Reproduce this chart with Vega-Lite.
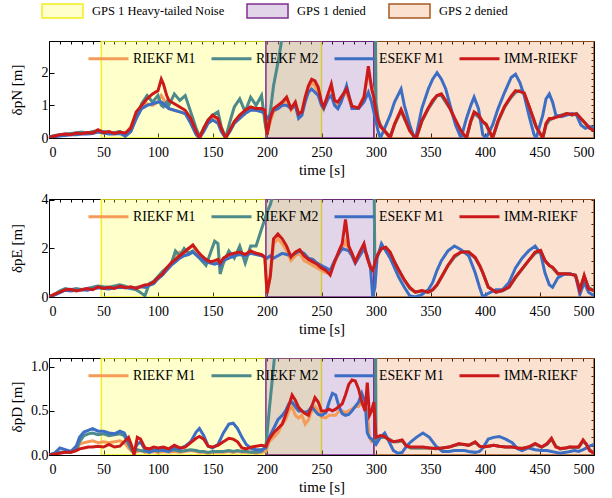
{
"$schema": "https://vega.github.io/schema/vega-lite/v6.json",
"autosize": {"type": "pad"},
"padding": {"left": 8, "top": 2, "right": 6, "bottom": 0},
"bounds": "flush",
"spacing": 61,
"background": "#ffffff",
"config": {
 "font": "Liberation Serif",
 "view": {"stroke": "#000000", "strokeWidth": 1},
 "axis": {"labelFont": "Liberation Serif", "labelFontSize": 14, "labelColor": "#000000", "titleFont": "Liberation Serif", "titleFontSize": 15, "titleFontWeight": "normal", "titleColor": "#000000", "domainColor": "#000000", "tickColor": "#000000", "tickSize": -5, "gridColor": "#707070", "gridDash": [7, 5], "gridWidth": 0.8, "gridOpacity": 1},
 "legend": {"labelFont": "Liberation Serif", "labelColor": "#000000", "padding": 0}
},
"resolve": {"scale": {"x": "independent", "y": "independent", "color": "independent", "fill": "independent", "stroke": "independent", "strokeDash": "independent", "strokeWidth": "independent"}, "legend": {"color": "independent", "fill": "independent", "stroke": "independent", "strokeDash": "independent"}},
"datasets": {
 "reg": [
  {"region": "GPS 1 Heavy-tailed Noise", "x0": 48, "x1": 250},
  {"region": "GPS 2 denied", "x0": 298, "x1": 500},
  {"region": "GPS 1 denied", "x0": 199, "x1": 298}
 ],
 "N": [
  {"t":0,"a":0.02,"b":0.03,"c":0.02,"d":0.02},
  {"t":5,"a":0.05,"b":0.08,"c":0.04,"d":0.06},
  {"t":10,"a":0.08,"b":0.1,"c":0.06,"d":0.1},
  {"t":15,"a":0.1,"b":0.12,"c":0.08,"d":0.12},
  {"t":20,"a":0.12,"b":0.14,"c":0.1,"d":0.1},
  {"t":25,"a":0.14,"b":0.16,"c":0.1,"d":0.15},
  {"t":30,"a":0.15,"b":0.18,"c":0.12,"d":0.13},
  {"t":35,"a":0.14,"b":0.15,"c":0.12,"d":0.17},
  {"t":40,"a":0.16,"b":0.2,"c":0.14,"d":0.15},
  {"t":45,"a":0.2,"b":0.22,"c":0.18,"d":0.25},
  {"t":50,"a":0.16,"b":0.2,"c":0.15,"d":0.16},
  {"t":55,"a":0.15,"b":0.18,"c":0.12,"d":0.2},
  {"t":60,"a":0.14,"b":0.16,"c":0.12,"d":0.14},
  {"t":65,"a":0.16,"b":0.2,"c":0.14,"d":0.18},
  {"t":70,"a":0.12,"b":0.05,"c":0.06,"d":0.15},
  {"t":75,"a":0.35,"b":0.2,"c":0.2,"d":0.3},
  {"t":80,"a":0.75,"b":0.6,"c":0.6,"d":0.8},
  {"t":85,"a":0.95,"b":1.05,"c":0.9,"d":1.0},
  {"t":90,"a":1.05,"b":1.3,"c":1.0,"d":1.2},
  {"t":95,"a":1.0,"b":1.1,"c":1.05,"d":1.35},
  {"t":100,"a":1.1,"b":1.3,"c":1.1,"d":1.45},
  {"t":103,"a":1.3,"b":1.0,"c":1.1,"d":1.8},
  {"t":105,"a":1.2,"b":0.95,"c":1.05,"d":1.65},
  {"t":108,"a":1.0,"b":1.1,"c":0.95,"d":1.3},
  {"t":110,"a":0.9,"b":1.0,"c":0.9,"d":1.15},
  {"t":115,"a":0.85,"b":1.35,"c":0.85,"d":1.05},
  {"t":120,"a":0.8,"b":1.15,"c":0.8,"d":0.95},
  {"t":125,"a":0.75,"b":1.3,"c":0.75,"d":0.85},
  {"t":130,"a":0.5,"b":0.8,"c":0.45,"d":0.6},
  {"t":135,"a":0.15,"b":0.3,"c":0.1,"d":0.2},
  {"t":138,"a":0.0,"b":0.05,"c":0.0,"d":0.0},
  {"t":142,"a":0.3,"b":0.3,"c":0.2,"d":0.3},
  {"t":146,"a":0.55,"b":0.55,"c":0.45,"d":0.55},
  {"t":150,"a":0.65,"b":0.7,"c":0.55,"d":0.7},
  {"t":155,"a":0.55,"b":0.8,"c":0.45,"d":0.6},
  {"t":158,"a":0.3,"b":0.35,"c":0.2,"d":0.3},
  {"t":162,"a":0.0,"b":0.0,"c":0.0,"d":0.0},
  {"t":166,"a":0.25,"b":0.5,"c":0.2,"d":0.25},
  {"t":170,"a":0.5,"b":0.95,"c":0.45,"d":0.5},
  {"t":175,"a":0.65,"b":1.2,"c":0.6,"d":0.7},
  {"t":180,"a":0.8,"b":0.8,"c":0.75,"d":0.85},
  {"t":185,"a":0.9,"b":1.25,"c":0.85,"d":0.95},
  {"t":190,"a":0.85,"b":1.0,"c":0.85,"d":0.9},
  {"t":195,"a":0.9,"b":1.3,"c":0.8,"d":0.9},
  {"t":198,"a":0.8,"b":0.5,"c":0.75,"d":0.85},
  {"t":200,"a":0.1,"b":0.1,"c":0.6,"d":0.1},
  {"t":203,"a":0.5,"b":0.8,"c":0.7,"d":0.6},
  {"t":206,"a":0.8,"b":1.6,"c":0.85,"d":0.9},
  {"t":210,"a":0.9,"b":2.3,"c":0.9,"d":1.0},
  {"t":214,"a":1.0,"b":3.1,"c":1.0,"d":1.1},
  {"t":218,"a":1.2,"b":6,"c":1.0,"d":1.25},
  {"t":222,"a":0.85,"b":8,"c":0.9,"d":0.9},
  {"t":226,"a":1.0,"b":10,"c":1.0,"d":1.1},
  {"t":229,"a":0.7,"b":10,"c":0.6,"d":0.74},
  {"t":232,"a":0.8,"b":10,"c":0.7,"d":0.8},
  {"t":235,"a":1.2,"b":10,"c":1.1,"d":1.25},
  {"t":238,"a":1.5,"b":10,"c":1.4,"d":1.6},
  {"t":241,"a":1.7,"b":10,"c":1.5,"d":1.8},
  {"t":244,"a":1.6,"b":10,"c":1.4,"d":1.75},
  {"t":247,"a":1.4,"b":10,"c":1.3,"d":1.55},
  {"t":250,"a":1.1,"b":10,"c":1.0,"d":1.1},
  {"t":252,"a":0.9,"b":10,"c":0.9,"d":0.95},
  {"t":256,"a":1.3,"b":10,"c":1.2,"d":1.35},
  {"t":259,"a":1.6,"b":10,"c":1.3,"d":1.65},
  {"t":262,"a":1.1,"b":10,"c":1.0,"d":1.15},
  {"t":265,"a":1.0,"b":10,"c":0.9,"d":1.1},
  {"t":268,"a":1.2,"b":10,"c":1.1,"d":1.25},
  {"t":273,"a":1.4,"b":10,"c":1.6,"d":1.5},
  {"t":278,"a":0.9,"b":10,"c":0.9,"d":0.97},
  {"t":284,"a":0.95,"b":10,"c":0.9,"d":0.92},
  {"t":289,"a":1.3,"b":10,"c":1.1,"d":1.25},
  {"t":293,"a":2.0,"b":10,"c":1.4,"d":2.2},
  {"t":296,"a":1.6,"b":10,"c":1.1,"d":1.5},
  {"t":298,"a":1.3,"b":10,"c":0.8,"d":1.25},
  {"t":300,"a":0.8,"b":1.1,"c":0.5,"d":0.8},
  {"t":302,"a":0.6,"b":0.6,"c":0.2,"d":0.53},
  {"t":304,"a":0.4,"b":0.4,"c":0.0,"d":0.35},
  {"t":308,"a":0.2,"b":0.2,"c":0.3,"d":0.22},
  {"t":313,"a":0.0,"b":0.05,"c":0.7,"d":0.0},
  {"t":317,"a":0.4,"b":0.4,"c":1.1,"d":0.43},
  {"t":323,"a":0.8,"b":0.85,"c":1.5,"d":0.87},
  {"t":326,"a":0.6,"b":0.6,"c":1.0,"d":0.63},
  {"t":331,"a":0.2,"b":0.25,"c":0.4,"d":0.22},
  {"t":335,"a":0.05,"b":0.05,"c":0.0,"d":0.05},
  {"t":337,"a":0.0,"b":0.0,"c":0.1,"d":0.0},
  {"t":342,"a":0.5,"b":0.5,"c":0.9,"d":0.53},
  {"t":348,"a":0.9,"b":0.9,"c":1.5,"d":0.92},
  {"t":352,"a":1.1,"b":1.1,"c":1.8,"d":1.15},
  {"t":356,"a":1.3,"b":1.3,"c":2.0,"d":1.3},
  {"t":360,"a":1.3,"b":1.3,"c":1.8,"d":1.35},
  {"t":364,"a":1.1,"b":1.1,"c":1.5,"d":1.15},
  {"t":368,"a":0.9,"b":0.9,"c":1.0,"d":0.9},
  {"t":373,"a":0.5,"b":0.5,"c":0.4,"d":0.55},
  {"t":378,"a":0.2,"b":0.2,"c":0.0,"d":0.22},
  {"t":383,"a":0.0,"b":0.0,"c":0.6,"d":0.0},
  {"t":387,"a":0.5,"b":0.5,"c":1.0,"d":0.53},
  {"t":390,"a":0.75,"b":0.75,"c":1.25,"d":0.8},
  {"t":394,"a":0.65,"b":0.65,"c":0.9,"d":0.7},
  {"t":398,"a":0.5,"b":0.5,"c":0.1,"d":0.5},
  {"t":401,"a":0.4,"b":0.4,"c":0.0,"d":0.43},
  {"t":407,"a":0.0,"b":0.0,"c":0.4,"d":0.0},
  {"t":412,"a":0.5,"b":0.5,"c":0.9,"d":0.53},
  {"t":418,"a":0.95,"b":0.95,"c":1.4,"d":0.97},
  {"t":424,"a":1.25,"b":1.25,"c":1.85,"d":1.28},
  {"t":428,"a":1.4,"b":1.4,"c":1.95,"d":1.45},
  {"t":432,"a":1.45,"b":1.45,"c":1.7,"d":1.42},
  {"t":436,"a":1.35,"b":1.35,"c":1.3,"d":1.38},
  {"t":441,"a":0.9,"b":0.9,"c":0.6,"d":0.92},
  {"t":445,"a":0.5,"b":0.5,"c":0.1,"d":0.55},
  {"t":447,"a":0.35,"b":0.35,"c":0.0,"d":0.33},
  {"t":453,"a":0.0,"b":0.0,"c":0.7,"d":0.0},
  {"t":456,"a":0.4,"b":0.4,"c":1.2,"d":0.45},
  {"t":459,"a":0.55,"b":0.55,"c":1.35,"d":0.6},
  {"t":462,"a":0.6,"b":0.6,"c":1.1,"d":0.6},
  {"t":465,"a":0.65,"b":0.65,"c":0.7,"d":0.63},
  {"t":470,"a":0.7,"b":0.7,"c":0.65,"d":0.68},
  {"t":475,"a":0.75,"b":0.75,"c":0.7,"d":0.75},
  {"t":480,"a":0.7,"b":0.7,"c":0.75,"d":0.72},
  {"t":484,"a":0.75,"b":0.75,"c":0.7,"d":0.74},
  {"t":488,"a":0.6,"b":0.6,"c":0.4,"d":0.6},
  {"t":492,"a":0.45,"b":0.45,"c":0.3,"d":0.45},
  {"t":496,"a":0.3,"b":0.3,"c":0.35,"d":0.3},
  {"t":500,"a":0.25,"b":0.25,"c":0.3,"d":0.22}
 ],
 "E": [
  {"t":0,"a":0.0,"b":0.0,"c":0.0,"d":0.0},
  {"t":5,"a":0.1,"b":0.1,"c":0.08,"d":0.12},
  {"t":10,"a":0.2,"b":0.25,"c":0.18,"d":0.2},
  {"t":15,"a":0.3,"b":0.35,"c":0.28,"d":0.3},
  {"t":20,"a":0.28,"b":0.3,"c":0.25,"d":0.32},
  {"t":25,"a":0.3,"b":0.35,"c":0.28,"d":0.25},
  {"t":30,"a":0.32,"b":0.3,"c":0.3,"d":0.3},
  {"t":35,"a":0.3,"b":0.35,"c":0.28,"d":0.35},
  {"t":40,"a":0.35,"b":0.4,"c":0.33,"d":0.3},
  {"t":45,"a":0.4,"b":0.45,"c":0.38,"d":0.42},
  {"t":50,"a":0.38,"b":0.42,"c":0.35,"d":0.35},
  {"t":55,"a":0.35,"b":0.4,"c":0.33,"d":0.4},
  {"t":60,"a":0.4,"b":0.45,"c":0.38,"d":0.35},
  {"t":65,"a":0.42,"b":0.5,"c":0.4,"d":0.45},
  {"t":70,"a":0.4,"b":0.45,"c":0.38,"d":0.38},
  {"t":75,"a":0.38,"b":0.35,"c":0.36,"d":0.42},
  {"t":80,"a":0.4,"b":0.3,"c":0.38,"d":0.35},
  {"t":85,"a":0.45,"b":0.15,"c":0.42,"d":0.45},
  {"t":88,"a":0.4,"b":0.05,"c":0.4,"d":0.5},
  {"t":92,"a":0.5,"b":0.55,"c":0.48,"d":0.52},
  {"t":96,"a":0.6,"b":0.65,"c":0.55,"d":0.62},
  {"t":100,"a":0.8,"b":0.85,"c":0.75,"d":0.8},
  {"t":104,"a":1.0,"b":1.05,"c":0.9,"d":0.95},
  {"t":108,"a":1.2,"b":1.2,"c":1.1,"d":1.2},
  {"t":112,"a":1.4,"b":1.35,"c":1.3,"d":1.4},
  {"t":116,"a":1.7,"b":1.9,"c":1.45,"d":1.55},
  {"t":120,"a":1.85,"b":1.7,"c":1.6,"d":1.7},
  {"t":124,"a":1.8,"b":2.0,"c":1.7,"d":1.85},
  {"t":128,"a":2.0,"b":1.8,"c":1.75,"d":2.0},
  {"t":132,"a":2.1,"b":1.9,"c":1.85,"d":2.15},
  {"t":136,"a":1.9,"b":1.7,"c":1.7,"d":1.9},
  {"t":140,"a":1.65,"b":1.5,"c":1.55,"d":1.7},
  {"t":144,"a":1.5,"b":1.3,"c":1.45,"d":1.55},
  {"t":148,"a":1.45,"b":1.8,"c":1.4,"d":1.45},
  {"t":152,"a":1.4,"b":2.3,"c":1.35,"d":1.5},
  {"t":155,"a":1.5,"b":2.2,"c":1.4,"d":1.55},
  {"t":157,"a":1.3,"b":0.95,"c":1.3,"d":1.4},
  {"t":160,"a":1.55,"b":1.4,"c":1.5,"d":1.6},
  {"t":165,"a":1.7,"b":1.9,"c":1.6,"d":1.75},
  {"t":170,"a":1.8,"b":1.6,"c":1.7,"d":1.8},
  {"t":175,"a":1.85,"b":2.1,"c":1.75,"d":1.85},
  {"t":180,"a":1.75,"b":1.4,"c":1.7,"d":1.75},
  {"t":185,"a":1.9,"b":2.1,"c":1.8,"d":1.9},
  {"t":190,"a":1.8,"b":2.1,"c":1.75,"d":1.8},
  {"t":195,"a":1.75,"b":2.8,"c":1.7,"d":1.75},
  {"t":198,"a":1.65,"b":3.2,"c":1.65,"d":1.65},
  {"t":200,"a":0.2,"b":3.5,"c":1.6,"d":0.15},
  {"t":203,"a":0.8,"b":3.8,"c":1.7,"d":0.85},
  {"t":206,"a":2.2,"b":4.3,"c":1.6,"d":2.4},
  {"t":210,"a":2.4,"b":6,"c":1.7,"d":2.6},
  {"t":214,"a":2.2,"b":8,"c":1.8,"d":2.4},
  {"t":218,"a":1.9,"b":10,"c":1.75,"d":2.1},
  {"t":222,"a":1.5,"b":10,"c":1.7,"d":1.65},
  {"t":226,"a":1.7,"b":10,"c":1.8,"d":1.85},
  {"t":230,"a":1.8,"b":10,"c":1.9,"d":1.95},
  {"t":234,"a":1.5,"b":10,"c":1.8,"d":1.7},
  {"t":238,"a":1.4,"b":10,"c":1.6,"d":1.55},
  {"t":242,"a":1.3,"b":10,"c":1.55,"d":1.45},
  {"t":246,"a":1.2,"b":10,"c":1.4,"d":1.35},
  {"t":250,"a":1.1,"b":10,"c":1.3,"d":1.2},
  {"t":254,"a":1.0,"b":10,"c":1.2,"d":1.1},
  {"t":258,"a":1.0,"b":10,"c":1.1,"d":0.9},
  {"t":262,"a":1.4,"b":10,"c":1.5,"d":1.45},
  {"t":266,"a":1.8,"b":10,"c":1.8,"d":1.9},
  {"t":269,"a":2.0,"b":10,"c":2.0,"d":2.2},
  {"t":272,"a":2.3,"b":10,"c":1.95,"d":3.2},
  {"t":275,"a":1.9,"b":10,"c":1.9,"d":2.1},
  {"t":278,"a":1.7,"b":10,"c":1.7,"d":1.8},
  {"t":281,"a":1.4,"b":10,"c":1.4,"d":1.45},
  {"t":285,"a":1.7,"b":10,"c":1.7,"d":1.85},
  {"t":289,"a":2.0,"b":10,"c":2.0,"d":2.2},
  {"t":292,"a":1.6,"b":10,"c":1.7,"d":1.6},
  {"t":295,"a":1.3,"b":10,"c":1.2,"d":1.2},
  {"t":297,"a":1.1,"b":10,"c":0.0,"d":1.1},
  {"t":299,"a":1.3,"b":1.3,"c":0.4,"d":1.4},
  {"t":301,"a":1.7,"b":1.7,"c":1.6,"d":1.7},
  {"t":305,"a":2.0,"b":2.0,"c":2.2,"d":2.0},
  {"t":309,"a":2.0,"b":2.0,"c":1.9,"d":2.05},
  {"t":313,"a":1.8,"b":1.8,"c":1.6,"d":1.85},
  {"t":317,"a":1.45,"b":1.45,"c":1.2,"d":1.44},
  {"t":321,"a":1.1,"b":1.1,"c":0.8,"d":1.1},
  {"t":326,"a":0.7,"b":0.7,"c":0.4,"d":0.7},
  {"t":331,"a":0.35,"b":0.35,"c":0.05,"d":0.4},
  {"t":336,"a":0.2,"b":0.2,"c":0.0,"d":0.2},
  {"t":342,"a":0.25,"b":0.25,"c":0.1,"d":0.27},
  {"t":348,"a":0.2,"b":0.2,"c":0.3,"d":0.2},
  {"t":352,"a":0.3,"b":0.3,"c":0.6,"d":0.3},
  {"t":356,"a":0.5,"b":0.5,"c":1.1,"d":0.5},
  {"t":360,"a":0.8,"b":0.8,"c":1.5,"d":0.82},
  {"t":366,"a":1.3,"b":1.3,"c":1.9,"d":1.3},
  {"t":372,"a":1.65,"b":1.65,"c":2.1,"d":1.7},
  {"t":378,"a":1.85,"b":1.85,"c":1.95,"d":1.85},
  {"t":385,"a":1.85,"b":1.85,"c":1.7,"d":1.85},
  {"t":391,"a":1.6,"b":1.6,"c":1.0,"d":1.64},
  {"t":395,"a":1.3,"b":1.3,"c":0.4,"d":1.3},
  {"t":398,"a":1.0,"b":1.0,"c":0.0,"d":1.0},
  {"t":403,"a":0.4,"b":0.4,"c":0.15,"d":0.41},
  {"t":410,"a":0.2,"b":0.2,"c":0.3,"d":0.2},
  {"t":416,"a":0.25,"b":0.25,"c":0.3,"d":0.27},
  {"t":422,"a":0.4,"b":0.4,"c":0.6,"d":0.41},
  {"t":428,"a":0.8,"b":0.8,"c":1.2,"d":0.82},
  {"t":434,"a":1.15,"b":1.15,"c":1.6,"d":1.16},
  {"t":440,"a":1.5,"b":1.5,"c":1.9,"d":1.5},
  {"t":446,"a":1.8,"b":1.8,"c":2.1,"d":1.85},
  {"t":451,"a":1.9,"b":1.9,"c":1.8,"d":1.92},
  {"t":455,"a":1.5,"b":1.5,"c":1.0,"d":1.5},
  {"t":459,"a":1.3,"b":1.3,"c":0.5,"d":1.3},
  {"t":462,"a":1.2,"b":1.2,"c":0.4,"d":1.23},
  {"t":467,"a":0.95,"b":0.95,"c":0.8,"d":0.96},
  {"t":473,"a":0.95,"b":0.95,"c":0.95,"d":0.96},
  {"t":478,"a":0.95,"b":0.95,"c":0.95,"d":0.95},
  {"t":483,"a":0.9,"b":0.9,"c":0.9,"d":0.89},
  {"t":487,"a":0.3,"b":0.3,"c":0.1,"d":0.27},
  {"t":491,"a":0.85,"b":0.85,"c":0.6,"d":0.89},
  {"t":495,"a":0.4,"b":0.4,"c":0.2,"d":0.34},
  {"t":500,"a":0.25,"b":0.25,"c":0.05,"d":0.27}
 ],
 "D": [
  {"t":0,"a":0.0,"b":0.0,"c":0.0,"d":0.0},
  {"t":5,"a":0.02,"b":0.02,"c":0.02,"d":0.01},
  {"t":10,"a":0.03,"b":0.03,"c":0.08,"d":0.02},
  {"t":15,"a":0.03,"b":0.03,"c":0.06,"d":0.03},
  {"t":20,"a":0.03,"b":0.03,"c":0.04,"d":0.03},
  {"t":25,"a":0.05,"b":0.06,"c":0.1,"d":0.05},
  {"t":28,"a":0.12,"b":0.15,"c":0.2,"d":0.07},
  {"t":32,"a":0.14,"b":0.22,"c":0.26,"d":0.08},
  {"t":36,"a":0.15,"b":0.24,"c":0.28,"d":0.09},
  {"t":40,"a":0.16,"b":0.25,"c":0.3,"d":0.09},
  {"t":45,"a":0.14,"b":0.23,"c":0.27,"d":0.1},
  {"t":50,"a":0.15,"b":0.24,"c":0.27,"d":0.09},
  {"t":55,"a":0.14,"b":0.22,"c":0.25,"d":0.12},
  {"t":60,"a":0.15,"b":0.23,"c":0.24,"d":0.09},
  {"t":65,"a":0.16,"b":0.24,"c":0.27,"d":0.1},
  {"t":69,"a":0.14,"b":0.22,"c":0.25,"d":0.15},
  {"t":73,"a":0.08,"b":0.12,"c":0.15,"d":0.2},
  {"t":76,"a":0.04,"b":0.05,"c":0.08,"d":0.1},
  {"t":78,"a":0.02,"b":0.04,"c":0.05,"d":0.0},
  {"t":81,"a":0.04,"b":0.06,"c":0.12,"d":0.2},
  {"t":84,"a":0.05,"b":0.05,"c":0.15,"d":0.18},
  {"t":88,"a":0.03,"b":0.04,"c":0.06,"d":0.08},
  {"t":92,"a":0.03,"b":0.05,"c":0.03,"d":0.07},
  {"t":96,"a":0.04,"b":0.06,"c":0.05,"d":0.09},
  {"t":100,"a":0.03,"b":0.04,"c":0.06,"d":0.08},
  {"t":105,"a":0.04,"b":0.07,"c":0.05,"d":0.09},
  {"t":110,"a":0.03,"b":0.05,"c":0.04,"d":0.07},
  {"t":115,"a":0.04,"b":0.06,"c":0.08,"d":0.11},
  {"t":120,"a":0.03,"b":0.04,"c":0.07,"d":0.08},
  {"t":125,"a":0.04,"b":0.05,"c":0.1,"d":0.09},
  {"t":130,"a":0.05,"b":0.06,"c":0.15,"d":0.14},
  {"t":135,"a":0.04,"b":0.05,"c":0.26,"d":0.19},
  {"t":138,"a":0.03,"b":0.04,"c":0.3,"d":0.21},
  {"t":142,"a":0.03,"b":0.04,"c":0.22,"d":0.18},
  {"t":146,"a":0.02,"b":0.03,"c":0.1,"d":0.1},
  {"t":150,"a":0.03,"b":0.04,"c":0.08,"d":0.09},
  {"t":155,"a":0.03,"b":0.04,"c":0.12,"d":0.11},
  {"t":160,"a":0.03,"b":0.04,"c":0.25,"d":0.15},
  {"t":165,"a":0.04,"b":0.05,"c":0.35,"d":0.19},
  {"t":169,"a":0.03,"b":0.04,"c":0.36,"d":0.18},
  {"t":173,"a":0.04,"b":0.05,"c":0.3,"d":0.15},
  {"t":177,"a":0.03,"b":0.04,"c":0.2,"d":0.08},
  {"t":181,"a":0.03,"b":0.04,"c":0.12,"d":0.07},
  {"t":186,"a":0.03,"b":0.03,"c":0.07,"d":0.09},
  {"t":190,"a":0.02,"b":0.03,"c":0.06,"d":0.1},
  {"t":195,"a":0.03,"b":0.04,"c":0.06,"d":0.11},
  {"t":199,"a":0.04,"b":0.1,"c":0.08,"d":0.1},
  {"t":202,"a":0.15,"b":0.5,"c":0.2,"d":0.18},
  {"t":206,"a":0.2,"b":1.0,"c":0.3,"d":0.25},
  {"t":210,"a":0.25,"b":1.5,"c":0.4,"d":0.3},
  {"t":214,"a":0.35,"b":3,"c":0.45,"d":0.35},
  {"t":217,"a":0.4,"b":5,"c":0.5,"d":0.45},
  {"t":220,"a":0.5,"b":6,"c":0.58,"d":0.56},
  {"t":223,"a":0.55,"b":6,"c":0.6,"d":0.68},
  {"t":226,"a":0.45,"b":6,"c":0.55,"d":0.62},
  {"t":229,"a":0.42,"b":6,"c":0.5,"d":0.54},
  {"t":232,"a":0.45,"b":6,"c":0.5,"d":0.5},
  {"t":235,"a":0.35,"b":6,"c":0.48,"d":0.47},
  {"t":238,"a":0.4,"b":6,"c":0.5,"d":0.45},
  {"t":241,"a":0.5,"b":6,"c":0.55,"d":0.55},
  {"t":244,"a":0.55,"b":6,"c":0.5,"d":0.65},
  {"t":247,"a":0.5,"b":6,"c":0.46,"d":0.6},
  {"t":250,"a":0.43,"b":6,"c":0.45,"d":0.5},
  {"t":254,"a":0.42,"b":6,"c":0.48,"d":0.5},
  {"t":257,"a":0.45,"b":6,"c":0.6,"d":0.52},
  {"t":260,"a":0.45,"b":6,"c":0.7,"d":0.5},
  {"t":263,"a":0.45,"b":6,"c":0.68,"d":0.52},
  {"t":266,"a":0.5,"b":6,"c":0.55,"d":0.55},
  {"t":269,"a":0.5,"b":6,"c":0.47,"d":0.58},
  {"t":272,"a":0.48,"b":6,"c":0.45,"d":0.68},
  {"t":275,"a":0.5,"b":6,"c":0.46,"d":0.8},
  {"t":278,"a":0.52,"b":6,"c":0.5,"d":0.85},
  {"t":281,"a":0.55,"b":6,"c":0.55,"d":0.84},
  {"t":284,"a":0.55,"b":6,"c":0.6,"d":0.75},
  {"t":287,"a":0.6,"b":6,"c":0.7,"d":0.6},
  {"t":290,"a":0.55,"b":6,"c":0.6,"d":0.5},
  {"t":292,"a":0.5,"b":6,"c":0.25,"d":0.82},
  {"t":294,"a":0.2,"b":6,"c":0.2,"d":0.45},
  {"t":296,"a":0.15,"b":6,"c":0.18,"d":0.5},
  {"t":298,"a":0.15,"b":6,"c":0.15,"d":0.6},
  {"t":300,"a":0.15,"b":0.15,"c":0.12,"d":0.2},
  {"t":304,"a":0.2,"b":0.2,"c":0.2,"d":0.22},
  {"t":308,"a":0.2,"b":0.2,"c":0.25,"d":0.21},
  {"t":312,"a":0.18,"b":0.18,"c":0.15,"d":0.17},
  {"t":316,"a":0.15,"b":0.15,"c":0.05,"d":0.15},
  {"t":320,"a":0.15,"b":0.15,"c":0.02,"d":0.16},
  {"t":324,"a":0.16,"b":0.16,"c":0.03,"d":0.17},
  {"t":328,"a":0.1,"b":0.1,"c":0.1,"d":0.1},
  {"t":332,"a":0.08,"b":0.08,"c":0.15,"d":0.09},
  {"t":337,"a":0.08,"b":0.08,"c":0.2,"d":0.09},
  {"t":343,"a":0.08,"b":0.08,"c":0.25,"d":0.09},
  {"t":349,"a":0.08,"b":0.08,"c":0.2,"d":0.08},
  {"t":355,"a":0.07,"b":0.07,"c":0.1,"d":0.075},
  {"t":361,"a":0.08,"b":0.08,"c":0.04,"d":0.08},
  {"t":367,"a":0.09,"b":0.09,"c":0.04,"d":0.09},
  {"t":372,"a":0.11,"b":0.11,"c":0.05,"d":0.11},
  {"t":376,"a":0.12,"b":0.12,"c":0.05,"d":0.13},
  {"t":381,"a":0.12,"b":0.12,"c":0.05,"d":0.12},
  {"t":385,"a":0.11,"b":0.11,"c":0.04,"d":0.11},
  {"t":391,"a":0.14,"b":0.14,"c":0.03,"d":0.15},
  {"t":395,"a":0.1,"b":0.1,"c":0.04,"d":0.1},
  {"t":398,"a":0.09,"b":0.09,"c":0.08,"d":0.09},
  {"t":403,"a":0.1,"b":0.1,"c":0.18,"d":0.1},
  {"t":408,"a":0.11,"b":0.11,"c":0.2,"d":0.11},
  {"t":413,"a":0.1,"b":0.1,"c":0.21,"d":0.1},
  {"t":419,"a":0.09,"b":0.09,"c":0.18,"d":0.09},
  {"t":425,"a":0.09,"b":0.09,"c":0.14,"d":0.09},
  {"t":430,"a":0.08,"b":0.08,"c":0.07,"d":0.08},
  {"t":434,"a":0.075,"b":0.075,"c":0.05,"d":0.075},
  {"t":440,"a":0.09,"b":0.09,"c":0.08,"d":0.09},
  {"t":446,"a":0.12,"b":0.12,"c":0.06,"d":0.13},
  {"t":452,"a":0.09,"b":0.09,"c":0.05,"d":0.09},
  {"t":457,"a":0.12,"b":0.12,"c":0.05,"d":0.13},
  {"t":461,"a":0.18,"b":0.18,"c":0.04,"d":0.19},
  {"t":465,"a":0.1,"b":0.1,"c":0.03,"d":0.09},
  {"t":469,"a":0.07,"b":0.07,"c":0.02,"d":0.075},
  {"t":474,"a":0.08,"b":0.08,"c":0.03,"d":0.08},
  {"t":478,"a":0.09,"b":0.09,"c":0.04,"d":0.09},
  {"t":482,"a":0.08,"b":0.08,"c":0.05,"d":0.09},
  {"t":486,"a":0.09,"b":0.09,"c":0.04,"d":0.09},
  {"t":490,"a":0.16,"b":0.16,"c":0.06,"d":0.17},
  {"t":493,"a":0.12,"b":0.12,"c":0.08,"d":0.12},
  {"t":496,"a":0.06,"b":0.06,"c":0.1,"d":0.05},
  {"t":500,"a":0.02,"b":0.02,"c":0.12,"d":0.02}
 ]
},
"vconcat": [
 {
  "width": 545, "height": 97,
  "resolve": {"axis": {"x": "independent", "y": "independent"}},
  "layer": [
   {
    "data": {"name": "reg"},
    "mark": {"type": "rect", "fillOpacity": 0.25, "strokeWidth": 1.5, "clip": true},
    "encoding": {
     "x": {"field": "x0", "type": "quantitative", "scale": {"domain": [0, 500], "nice": false}, "axis": {"orient": "top", "title": null, "labels": false, "grid": false, "domain": false, "tickSize": -3, "values": [10,20,30,40,50,60,70,80,90,100,110,120,130,140,150,160,170,180,190,200,210,220,230,240,250,260,270,280,290,300,310,320,330,340,350,360,370,380,390,400,410,420,430,440,450,460,470,480,490]}},
     "x2": {"field": "x1"},
     "y": {"datum": 0, "type": "quantitative", "scale": {"domain": [0, 2.97], "nice": false}, "axis": {"orient": "right", "title": null, "labels": false, "grid": false, "domain": false, "tickSize": -3, "values": [0.2,0.4,0.6,0.8,1,1.2,1.4,1.6,1.8,2,2.2,2.4,2.6,2.8]}},
     "y2": {"datum": 2.97},
     "fill": {"field": "region", "type": "nominal", "scale": {"domain": ["GPS 1 Heavy-tailed Noise", "GPS 1 denied", "GPS 2 denied"], "range": ["#ffff30", "#8b57ab", "#f08c44"]},
      "legend": {"orient": "none", "legendX": 5.5, "legendY": -38, "direction": "horizontal", "title": null, "symbolType": "M-2.93,-1H2.93V1H-2.93Z", "symbolSize": 196, "symbolStrokeWidth": 1.5, "labelFontSize": 12.5, "labelOffset": 21.5, "columnPadding": 19, "encode": {"symbols": {"update": {"fillOpacity": {"value": 0.25}, "strokeOpacity": {"value": 1}}}}}},
     "stroke": {"field": "region", "type": "nominal", "scale": {"domain": ["GPS 1 Heavy-tailed Noise", "GPS 1 denied", "GPS 2 denied"], "range": ["#eeee20", "#7e2f8e", "#a55a24"]}, "legend": {"orient": "none", "legendX": 5.5, "legendY": -38, "direction": "horizontal", "title": null, "symbolType": "M-2.93,-1H2.93V1H-2.93Z", "symbolSize": 196, "symbolStrokeWidth": 1.5, "labelFontSize": 12.5, "labelOffset": 21.5, "columnPadding": 19}},
     "strokeDash": {"field": "region", "type": "nominal", "scale": {"domain": ["GPS 1 Heavy-tailed Noise", "GPS 1 denied", "GPS 2 denied"], "range": [[1, 0], [6, 4], [1, 0]]}, "legend": {"orient": "none", "legendX": 5.5, "legendY": -38, "direction": "horizontal", "title": null, "symbolType": "M-2.93,-1H2.93V1H-2.93Z", "symbolSize": 196, "symbolStrokeWidth": 1.5, "labelFontSize": 12.5, "labelOffset": 21.5, "columnPadding": 19}}
    }
   },
   {
    "data": {"name": "N"},
    "transform": [{"fold": ["a", "b", "c", "d"], "as": ["k", "v"]}],
    "mark": {"type": "line", "clip": true},
    "encoding": {
     "x": {"field": "t", "type": "quantitative", "scale": {"domain": [0, 500], "nice": false}, "axis": {"orient": "bottom", "title": "time [s]", "values": [0, 50, 100, 150, 200, 250, 300, 350, 400, 450, 500], "labelPadding": 12, "titlePadding": 3}},
     "y": {"field": "v", "type": "quantitative", "scale": {"domain": [0, 2.97], "nice": false}, "axis": {"orient": "left", "title": "δpN [m]", "values": [0, 1, 2], "labelPadding": 6, "titleX": -25}},
     "strokeWidth": {"field": "k", "type": "nominal", "scale": {"domain": ["a", "b", "c", "d"], "range": [3, 3, 3, 3.5]}, "legend": null},
     "color": {"field": "k", "type": "nominal", "scale": {"domain": ["a", "b", "c", "d"], "range": ["#f59b58", "#4c8a8b", "#3c6ec4", "#cc1a1a"]},
      "legend": {"orient": "none", "legendX": 38, "legendY": -4, "direction": "horizontal", "title": null, "symbolType": "stroke", "symbolSize": 1600, "symbolStrokeWidth": 3, "labelFontSize": 13.8, "labelOffset": 3, "columnPadding": 9, "labelExpr": "{'a': 'RIEKF M1', 'b': 'RIEKF M2', 'c': 'ESEKF M1', 'd': 'IMM-RIEKF'}[datum.label]"}}
    }
   }
  ]
 },
 {
  "width": 545, "height": 98,
  "resolve": {"axis": {"x": "independent", "y": "independent"}},
  "layer": [
   {
    "data": {"name": "reg"},
    "mark": {"type": "rect", "fillOpacity": 0.25, "strokeWidth": 1.5, "clip": true},
    "encoding": {
     "x": {"field": "x0", "type": "quantitative", "scale": {"domain": [0, 500], "nice": false}, "axis": {"orient": "top", "title": null, "labels": false, "grid": false, "domain": false, "tickSize": -3, "values": [10,20,30,40,50,60,70,80,90,100,110,120,130,140,150,160,170,180,190,200,210,220,230,240,250,260,270,280,290,300,310,320,330,340,350,360,370,380,390,400,410,420,430,440,450,460,470,480,490]}},
     "x2": {"field": "x1"},
     "y": {"datum": 0, "type": "quantitative", "scale": {"domain": [0, 4.04], "nice": false}, "axis": {"orient": "right", "title": null, "labels": false, "grid": false, "domain": false, "tickSize": -3, "values": [0.5,1,1.5,2,2.5,3,3.5,4]}},
     "y2": {"datum": 4.04},
     "fill": {"field": "region", "type": "nominal", "scale": {"domain": ["GPS 1 Heavy-tailed Noise", "GPS 1 denied", "GPS 2 denied"], "range": ["#ffff30", "#8b57ab", "#f08c44"]}, "legend": null},
     "stroke": {"field": "region", "type": "nominal", "scale": {"domain": ["GPS 1 Heavy-tailed Noise", "GPS 1 denied", "GPS 2 denied"], "range": ["#eeee20", "#7e2f8e", "#a55a24"]}, "legend": null},
     "strokeDash": {"field": "region", "type": "nominal", "scale": {"domain": ["GPS 1 Heavy-tailed Noise", "GPS 1 denied", "GPS 2 denied"], "range": [[1, 0], [6, 4], [1, 0]]}, "legend": null}
    }
   },
   {
    "data": {"name": "E"},
    "transform": [{"fold": ["a", "b", "c", "d"], "as": ["k", "v"]}],
    "mark": {"type": "line", "clip": true},
    "encoding": {
     "x": {"field": "t", "type": "quantitative", "scale": {"domain": [0, 500], "nice": false}, "axis": {"orient": "bottom", "title": "time [s]", "values": [0, 50, 100, 150, 200, 250, 300, 350, 400, 450, 500], "labelPadding": 12, "titlePadding": 3}},
     "y": {"field": "v", "type": "quantitative", "scale": {"domain": [0, 4.04], "nice": false}, "axis": {"orient": "left", "title": "δpE [m]", "values": [0, 2, 4], "labelPadding": 6, "titleX": -25}},
     "strokeWidth": {"field": "k", "type": "nominal", "scale": {"domain": ["a", "b", "c", "d"], "range": [3, 3, 3, 3.5]}, "legend": null},
     "color": {"field": "k", "type": "nominal", "scale": {"domain": ["a", "b", "c", "d"], "range": ["#f59b58", "#4c8a8b", "#3c6ec4", "#cc1a1a"]},
      "legend": {"orient": "none", "legendX": 38, "legendY": -4, "direction": "horizontal", "title": null, "symbolType": "stroke", "symbolSize": 1600, "symbolStrokeWidth": 3, "labelFontSize": 13.8, "labelOffset": 3, "columnPadding": 9, "labelExpr": "{'a': 'RIEKF M1', 'b': 'RIEKF M2', 'c': 'ESEKF M1', 'd': 'IMM-RIEKF'}[datum.label]"}}
    }
   }
  ]
 },
 {
  "width": 545, "height": 97,
  "resolve": {"axis": {"x": "independent", "y": "independent"}},
  "layer": [
   {
    "data": {"name": "reg"},
    "mark": {"type": "rect", "fillOpacity": 0.25, "strokeWidth": 1.5, "clip": true},
    "encoding": {
     "x": {"field": "x0", "type": "quantitative", "scale": {"domain": [0, 500], "nice": false}, "axis": {"orient": "top", "title": null, "labels": false, "grid": false, "domain": false, "tickSize": -3, "values": [10,20,30,40,50,60,70,80,90,100,110,120,130,140,150,160,170,180,190,200,210,220,230,240,250,260,270,280,290,300,310,320,330,340,350,360,370,380,390,400,410,420,430,440,450,460,470,480,490]}},
     "x2": {"field": "x1"},
     "y": {"datum": 0, "type": "quantitative", "scale": {"domain": [0, 1.1], "nice": false}, "axis": {"orient": "right", "title": null, "labels": false, "grid": false, "domain": false, "tickSize": -3, "values": [0.1,0.2,0.3,0.4,0.5,0.6,0.7,0.8,0.9,1.0]}},
     "y2": {"datum": 1.1},
     "fill": {"field": "region", "type": "nominal", "scale": {"domain": ["GPS 1 Heavy-tailed Noise", "GPS 1 denied", "GPS 2 denied"], "range": ["#ffff30", "#8b57ab", "#f08c44"]}, "legend": null},
     "stroke": {"field": "region", "type": "nominal", "scale": {"domain": ["GPS 1 Heavy-tailed Noise", "GPS 1 denied", "GPS 2 denied"], "range": ["#eeee20", "#7e2f8e", "#a55a24"]}, "legend": null},
     "strokeDash": {"field": "region", "type": "nominal", "scale": {"domain": ["GPS 1 Heavy-tailed Noise", "GPS 1 denied", "GPS 2 denied"], "range": [[1, 0], [6, 4], [1, 0]]}, "legend": null}
    }
   },
   {
    "data": {"name": "D"},
    "transform": [{"fold": ["a", "b", "c", "d"], "as": ["k", "v"]}],
    "mark": {"type": "line", "clip": true},
    "encoding": {
     "x": {"field": "t", "type": "quantitative", "scale": {"domain": [0, 500], "nice": false}, "axis": {"orient": "bottom", "title": "time [s]", "values": [0, 50, 100, 150, 200, 250, 300, 350, 400, 450, 500], "labelPadding": 12, "titlePadding": 3}},
     "y": {"field": "v", "type": "quantitative", "scale": {"domain": [0, 1.1], "nice": false}, "axis": {"orient": "left", "title": "δpD [m]", "values": [0, 0.5, 1], "labelPadding": 6, "titleX": -25}},
     "strokeWidth": {"field": "k", "type": "nominal", "scale": {"domain": ["a", "b", "c", "d"], "range": [3, 3, 3, 3.5]}, "legend": null},
     "color": {"field": "k", "type": "nominal", "scale": {"domain": ["a", "b", "c", "d"], "range": ["#f59b58", "#4c8a8b", "#3c6ec4", "#cc1a1a"]},
      "legend": {"orient": "none", "legendX": 38, "legendY": -4, "direction": "horizontal", "title": null, "symbolType": "stroke", "symbolSize": 1600, "symbolStrokeWidth": 3, "labelFontSize": 13.8, "labelOffset": 3, "columnPadding": 9, "labelExpr": "{'a': 'RIEKF M1', 'b': 'RIEKF M2', 'c': 'ESEKF M1', 'd': 'IMM-RIEKF'}[datum.label]"}}
    }
   }
  ]
 }
]
}
